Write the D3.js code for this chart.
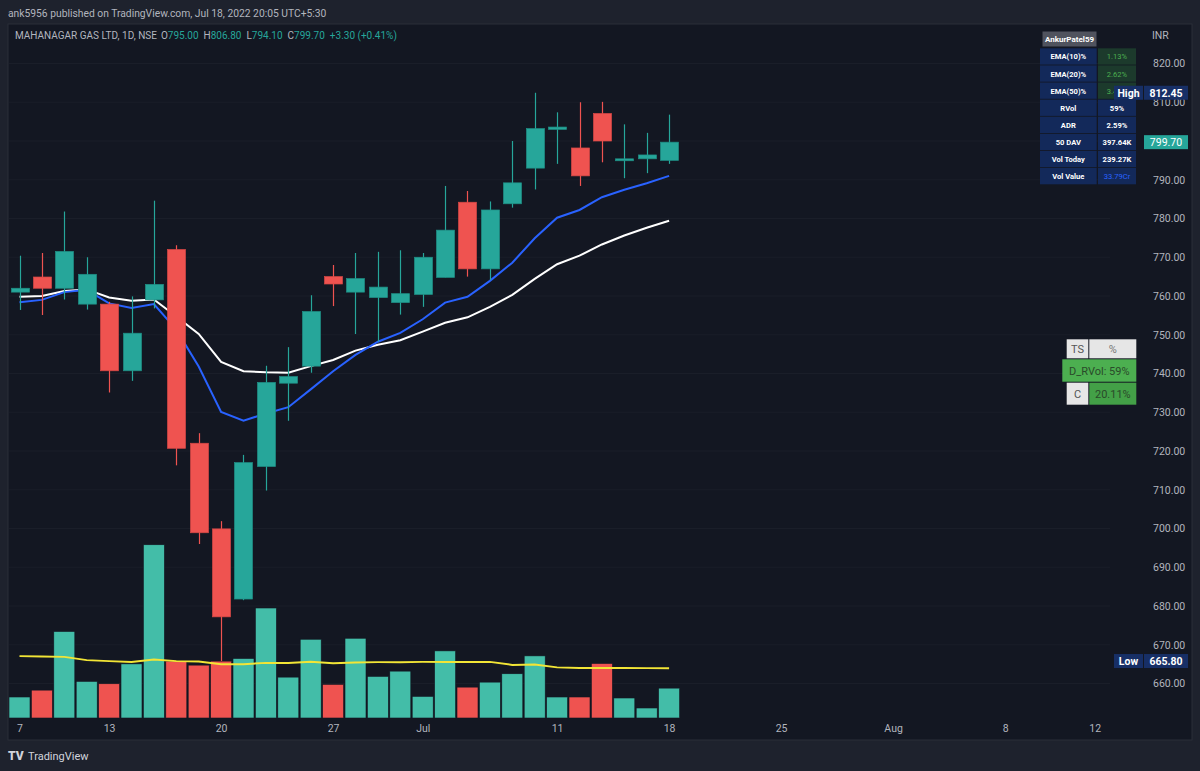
<!DOCTYPE html>
<meta charset="utf-8">
<style>
  body { margin: 0; background: #1e222d; }
  svg { display: block; }
  text { font-family: Roboto, 'Noto Sans', sans-serif; }
</style>
<body>
<script src="https://cdn.jsdelivr.net/npm/d3@7"></script>
<script>

// daily bars, Jun 7 -> Jul 18 2022 (index = trading day)
var open  = [761.0, 764.9, 762.0, 757.9, 757.9, 740.7, 759.0, 772.0, 722.0, 699.9,
             681.8, 716.0, 737.5, 741.9, 765.0, 761.0, 759.6, 758.3, 760.4, 764.8,
             784.2, 767.0, 783.8, 793.0, 803.0, 798.2, 807.1, 794.9, 795.4, 795.0];
var high  = [770.4, 771.1, 781.8, 770.0, 758.5, 759.9, 784.6, 773.1, 724.6, 701.9,
             719.0, 742.0, 746.8, 760.2, 768.0, 771.1, 771.4, 771.8, 771.1, 788.4,
             787.1, 784.4, 800.0, 812.45, 807.4, 810.0, 810.1, 804.3, 802.1, 806.8];
var low   = [756.4, 755.1, 759.1, 756.5, 735.1, 738.1, 756.8, 716.3, 696.0, 665.8,
             681.5, 709.8, 727.8, 740.2, 757.4, 750.2, 748.2, 755.2, 757.2, 764.8,
             765.0, 764.1, 782.8, 787.5, 794.1, 788.4, 794.5, 790.4, 791.7, 794.1];
var close = [762.0, 762.0, 771.5, 765.6, 740.7, 750.4, 763.0, 720.7, 698.9, 677.2,
             717.0, 737.7, 739.2, 756.0, 763.1, 764.5, 762.3, 760.6, 770.0, 777.0,
             767.0, 782.2, 789.2, 803.2, 803.6, 791.0, 800.0, 795.4, 796.4, 799.7];

// volume in thousands and its 50 day average
var volume = [168, 223, 692, 293, 274, 433, 1386, 455, 423, 455,
              476, 880, 327, 630, 269, 638, 333, 375, 173, 537,
              247, 287, 354, 497, 168, 168, 436, 160, 80, 239];
var volAvg = [495, 492, 489, 463, 455, 449, 468, 455, 452, 431,
              431, 441, 441, 449, 439, 444, 447, 447, 449, 449,
              449, 449, 425, 428, 405, 401, 401, 401, 399, 398];

var ema10 = [758.4, 759.0, 761.0, 761.6, 758.1, 756.9, 757.9, 751.3, 741.8, 730.1,
             727.8, 729.7, 731.3, 735.9, 740.6, 744.8, 748.2, 750.5, 754.0, 758.3,
             759.8, 763.9, 768.6, 774.9, 780.2, 782.2, 785.5, 787.4, 789.1, 791.0];
var ema20 = [759.8, 760.0, 761.3, 761.7, 759.6, 758.8, 759.1, 754.7, 750.2, 743.0,
             740.6, 740.3, 740.2, 741.9, 743.5, 745.9, 747.4, 748.6, 750.8, 753.1,
             754.5, 757.2, 760.3, 764.4, 768.2, 770.4, 773.3, 775.6, 777.6, 779.4];

var priceTicks = [660, 670, 680, 690, 700, 710, 720, 730, 740, 750, 760, 770, 780, 790, 800, 810, 820];
var timeTickIdx = [0, 4, 9, 14, 18, 24, 29, 34, 39, 44, 48];
var timeTickLabels = ["7", "13", "20", "27", "Jul", "11", "18", "25", "Aug", "8", "12"];

var statLabels = ["EMA(10)%", "EMA(20)%", "EMA(50)%", "RVol", "ADR", "50 DAV", "Vol Today", "Vol Value"];
var statValues = ["1.13%", "2.62%", "3.40%", "59%", "2.59%", "397.64K", "239.27K", "33.79Cr"];

var W = 1200, H = 771;
var paneL = 8, paneR = 1192, paneT = 24, paneB = 740, plotR = 1110, plotB = 718;

var x = d3.scaleLinear().domain([0, 48]).range([19.5, 19.5 + 48 * 22.4]);
var y = d3.scaleLinear().domain([660, 820]).range([683.5, 63.5]);
var yv = d3.scaleLinear().domain([0, 1400]).range([718, 543]);

var up = "#26a69a", down = "#ef5350", upVol = "#43bda8";

var svg = d3.select("body").append("svg")
    .attr("width", W)
    .attr("height", H);

svg.append("rect").attr("width", W).attr("height", H).attr("fill", "#1e222d");
svg.append("rect")
    .attr("x", paneL).attr("y", paneT)
    .attr("width", paneR - paneL).attr("height", paneB - paneT)
    .attr("fill", "#131722")
    .attr("stroke", "#2a2e39");

svg.append("clipPath").attr("id", "plot")
  .append("rect")
    .attr("x", paneL + 1).attr("y", paneT + 1)
    .attr("width", plotR - paneL).attr("height", plotB - paneT);

// grid
svg.selectAll(".grid")
    .data(priceTicks)
  .enter().append("line")
    .attr("x1", paneL + 1).attr("x2", plotR)
    .attr("y1", function(d) { return y(d); })
    .attr("y2", function(d) { return y(d); })
    .attr("stroke", "#1a1e29");

var plot = svg.append("g").attr("clip-path", "url(#plot)");

// volume
plot.selectAll(".vol")
    .data(volume)
  .enter().append("rect")
    .attr("x", function(d, i) { return x(i) - 10.5; })
    .attr("width", 21)
    .attr("y", function(d) { return yv(d); })
    .attr("height", function(d) { return yv(0) - yv(d); })
    .attr("fill", function(d, i) { return close[i] >= open[i] ? upVol : down; })
    .attr("stroke", "#131722")
    .attr("stroke-width", 0.6);

plot.append("path")
    .datum(volAvg)
    .attr("fill", "none")
    .attr("stroke", "#f2e536")
    .attr("stroke-width", 2)
    .attr("d", d3.line().x(function(d, i) { return x(i); }).y(function(d) { return yv(d); }));

// moving averages
plot.append("path")
    .datum(ema20)
    .attr("fill", "none")
    .attr("stroke", "#ffffff")
    .attr("stroke-width", 2)
    .attr("d", d3.line().x(function(d, i) { return x(i); }).y(function(d) { return y(d); }));

plot.append("path")
    .datum(ema10)
    .attr("fill", "none")
    .attr("stroke", "#2962ff")
    .attr("stroke-width", 2)
    .attr("d", d3.line().x(function(d, i) { return x(i); }).y(function(d) { return y(d); }));

// candles
var idx = d3.range(open.length);
plot.selectAll(".wick")
    .data(idx)
  .enter().append("line")
    .attr("x1", function(i) { return Math.round(x(i)) + 0.5; })
    .attr("x2", function(i) { return Math.round(x(i)) + 0.5; })
    .attr("y1", function(i) { return y(high[i]); })
    .attr("y2", function(i) { return y(low[i]); })
    .attr("stroke", function(i) { return close[i] >= open[i] ? up : down; })
    .attr("stroke-width", 1.2);

plot.selectAll(".body")
    .data(idx)
  .enter().append("rect")
    .attr("x", function(i) { return Math.round(x(i)) - 8.5; })
    .attr("width", 18)
    .attr("y", function(i) { return y(Math.max(open[i], close[i])); })
    .attr("height", function(i) { return Math.max(1.5, Math.abs(y(open[i]) - y(close[i]))); })
    .attr("fill", function(i) { return close[i] >= open[i] ? up : down; })
    .attr("stroke", function(i) { return close[i] >= open[i] ? "#1f8f85" : "#d84845"; })
    .attr("stroke-width", 0.7);

// price axis
var pAxis = svg.append("g")
    .attr("transform", "translate(" + plotR + ",0)")
    .call(d3.axisRight(y).tickValues(priceTicks).tickFormat(d3.format(".2f")).tickSize(0).tickPadding(43));
pAxis.select(".domain").remove();
pAxis.selectAll("text").attr("fill", "#b2b5be").style("font-size", "10.5px").style("font-family", "Roboto, sans-serif");

svg.append("text").attr("x", 1152).attr("y", 39).text("INR")
    .attr("fill", "#b2b5be").style("font-size", "10.5px");

// time axis
var tAxis = svg.append("g")
    .attr("transform", "translate(0," + plotB + ")")
    .call(d3.axisBottom(x).tickValues(timeTickIdx)
      .tickFormat(function(d, i) { return timeTickLabels[i]; })
      .tickSize(0).tickPadding(7));
tAxis.select(".domain").remove();
tAxis.selectAll("text").attr("fill", "#b2b5be").style("font-size", "10.5px").style("font-family", "Roboto, sans-serif");

// header texts
svg.append("text").attr("x", 8).attr("y", 17)
    .text("ank5956 published on TradingView.com, Jul 18, 2022 20:05 UTC+5:30")
    .attr("fill", "#b2b5be").style("font-size", "10.3px");

var legend = svg.append("text").attr("x", 15).attr("y", 39).style("font-size", "10px");
var legendParts = [
  {g: 0, t: "MAHANAGAR GAS LTD, 1D, NSE", c: "#b2b5be"},
  {g: 4, t: "O", c: "#b2b5be"}, {g: 0, t: "795.00", c: up},
  {g: 5, t: "H", c: "#b2b5be"}, {g: 0, t: "806.80", c: up},
  {g: 5, t: "L", c: "#b2b5be"}, {g: 0, t: "794.10", c: up},
  {g: 5, t: "C", c: "#b2b5be"}, {g: 0, t: "799.70", c: up},
  {g: 5, t: "+3.30 (+0.41%)", c: up}
];
legend.selectAll("tspan").data(legendParts).enter().append("tspan")
    .attr("dx", function(d) { return d.g; })
    .attr("fill", function(d) { return d.c; })
    .text(function(d) { return d.t; });

// stats table
var tbl = svg.append("g");
tbl.append("rect").attr("x", 1042.5).attr("y", 31.5).attr("width", 54).attr("height", 15).attr("fill", "#50535e");
tbl.append("text").attr("x", 1069.5).attr("y", 42).attr("text-anchor", "middle")
    .attr("fill", "#ffffff").style("font-size", "8px").style("font-weight", "bold").text("AnkurPatel59");

var rows = tbl.selectAll(".row").data(statLabels).enter().append("g")
    .attr("transform", function(d, i) { return "translate(0," + (48.3 + i * 17.1) + ")"; });
rows.append("rect").attr("x", 1040).attr("width", 56.7).attr("height", 16.3).attr("fill", "#13295a");
rows.append("rect").attr("x", 1098).attr("width", 38).attr("height", 16.3)
    .attr("fill", function(d, i) { return i < 3 ? "#1c3a2c" : "#13295a"; });
rows.append("text").attr("x", 1068.3).attr("y", 11.2).attr("text-anchor", "middle")
    .attr("fill", "#ffffff").style("font-size", "7.6px").style("font-weight", "bold").text(function(d) { return d; });
rows.append("text").attr("x", 1117).attr("y", 11.2).attr("text-anchor", "middle")
    .attr("fill", function(d, i) { return i < 3 ? "#4caf50" : (i === 7 ? "#2962ff" : "#ffffff"); })
    .style("font-size", "7.6px").style("font-weight", function(d, i) { return i < 3 || i === 7 ? "normal" : "bold"; })
    .text(function(d, i) { return statValues[i]; });

// price labels on the scale
function tag(label, value, fill, withLabel) {
  var cy = y(value);
  if (withLabel) {
    svg.append("rect").attr("x", 1114).attr("y", cy - 7).attr("width", 29).attr("height", 14).attr("fill", fill);
    svg.append("text").attr("x", 1128.5).attr("y", cy + 4).attr("text-anchor", "middle")
        .attr("fill", "#ffffff").style("font-size", "10.5px").style("font-weight", "bold").text(label);
  }
  svg.append("rect").attr("x", 1144).attr("y", cy - 7).attr("width", 44).attr("height", 14).attr("fill", fill);
  svg.append("text").attr("x", 1166).attr("y", cy + 4).attr("text-anchor", "middle")
      .attr("fill", "#ffffff").style("font-size", "10.5px").style("font-weight", withLabel ? "bold" : "normal")
      .text(d3.format(".2f")(value));
}
tag("High", 812.45, "#172f66", true);
tag("", 799.70, up, false);
tag("Low", 665.80, "#172f66", true);

// TS table
var ts = svg.append("g");
ts.append("rect").attr("x", 1066.7).attr("y", 339.3).attr("width", 21.6).attr("height", 19).attr("fill", "#e6e6e6");
ts.append("rect").attr("x", 1089.3).attr("y", 339.3).attr("width", 47).attr("height", 19).attr("fill", "#e6e6e6");
ts.append("rect").attr("x", 1062.3).attr("y", 359.3).attr("width", 74).attr("height", 22.4).attr("fill", "#4caf50");
ts.append("rect").attr("x", 1066.7).attr("y", 382.7).attr("width", 21.6).attr("height", 22).attr("fill", "#e6e6e6");
ts.append("rect").attr("x", 1089.3).attr("y", 382.7).attr("width", 47).attr("height", 22).attr("fill", "#43a047");
ts.append("text").attr("x", 1077.5).attr("y", 353).attr("text-anchor", "middle").attr("fill", "#555").style("font-size", "11px").text("TS");
ts.append("text").attr("x", 1112.8).attr("y", 353).attr("text-anchor", "middle").attr("fill", "#777").style("font-size", "11px").text("%");
ts.append("text").attr("x", 1099.3).attr("y", 374.5).attr("text-anchor", "middle").attr("fill", "#2a4a2a").style("font-size", "11px").text("D_RVol: 59%");
ts.append("text").attr("x", 1077.5).attr("y", 397.7).attr("text-anchor", "middle").attr("fill", "#555").style("font-size", "11px").text("C");
ts.append("text").attr("x", 1112.8).attr("y", 397.7).attr("text-anchor", "middle").attr("fill", "#2a4a2a").style("font-size", "11px").text("20.11%");

// footer logo
svg.append("text").attr("x", 8).attr("y", 760)
    .attr("fill", "#d1d4dc").style("font-size", "12px").style("font-weight", "900").text("TV");
svg.append("text").attr("x", 28).attr("y", 760)
    .attr("fill", "#d1d4dc").style("font-size", "11px").text("TradingView");

</script>
</body>
